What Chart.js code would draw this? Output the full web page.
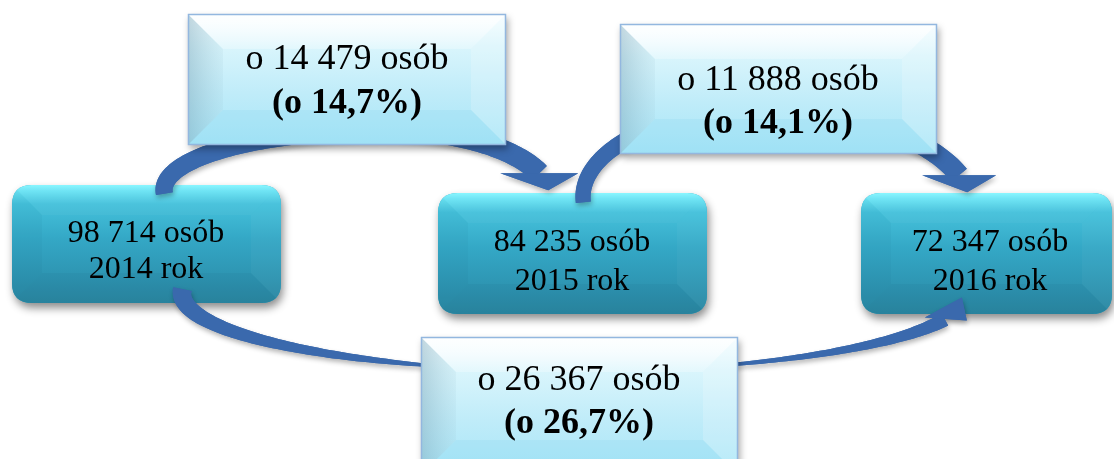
<!DOCTYPE html>
<html>
<head>
<meta charset="utf-8">
<script src="https://cdn.jsdelivr.net/npm/chart.js@4.4.0/dist/chart.umd.min.js"></script>
<style>
  html, body { margin: 0; padding: 0; background: #ffffff; }
  #wrap { width: 1114px; height: 459px; }
</style>
</head>
<body>
<div id="wrap"><canvas id="c" width="1114" height="459"></canvas></div>
<script>
// ---- data ----
const years = [2014, 2015, 2016];
const persons = [98714, 84235, 72347];
// changes: 2014->2015, 2015->2016, 2014->2016
const changePersons = [14479, 11888, 26367];
const changePct = [14.7, 14.1, 26.7];

// ---- layout (diagram coordinates, 1 unit = 1 px) ----
const W = 1114, H = 459;
const yearBoxes = [
  { x0: 12,  y0: 185, x1: 281,  y1: 303, tx: 146, b1: 242, b2: 278 },
  { x0: 438, y0: 193, x1: 707,  y1: 314, tx: 572, b1: 251, b2: 290 },
  { x0: 861, y0: 193, x1: 1112, y1: 314, tx: 990, b1: 251, b2: 290 }
];
const changeBoxes = [
  { x0: 188, y0: 14,  x1: 506, y1: 145, tx: 347, b1: 69,  b2: 113 },
  { x0: 620, y0: 24,  x1: 937, y1: 154, tx: 778, b1: 90,  b2: 133 },
  { x0: 421, y0: 337, x1: 738, y1: 475, tx: 579, b1: 390, b2: 433 }
];

function fmtInt(n) { return String(n).replace(/\B(?=(\d{3})+(?!\d))/g, ' '); }
function fmtPct(p) { return p.toFixed(1).replace('.', ','); }

const SERIF = '"Liberation Serif", "Times New Roman", serif';

const diagramPlugin = {
  id: 'diagram',
  afterDraw(chart) {
    const ctx = chart.ctx;
    const sx = chart.scales.x, sy = chart.scales.y;
    const X = v => sx.getPixelForValue(v);
    const Y = v => sy.getPixelForValue(v);
    const P = (x, y) => [X(x), Y(y)];

    function roundRect(x0, y0, x1, y1, r) {
      ctx.beginPath();
      ctx.moveTo(x0 + r, y0);
      ctx.lineTo(x1 - r, y0);
      ctx.quadraticCurveTo(x1, y0, x1, y0 + r);
      ctx.lineTo(x1, y1 - r);
      ctx.quadraticCurveTo(x1, y1, x1 - r, y1);
      ctx.lineTo(x0 + r, y1);
      ctx.quadraticCurveTo(x0, y1, x0, y1 - r);
      ctx.lineTo(x0, y0 + r);
      ctx.quadraticCurveTo(x0, y0, x0 + r, y0);
      ctx.closePath();
    }
    function poly(pts, fill) {
      ctx.beginPath();
      ctx.moveTo(pts[0][0], pts[0][1]);
      for (let i = 1; i < pts.length; i++) ctx.lineTo(pts[i][0], pts[i][1]);
      ctx.closePath();
      ctx.fillStyle = fill;
      ctx.fill();
    }
    function bevel(x0, y0, x1, y1, b, cols) {
      poly([[x0, y0], [x0 + b, y0 + b], [x0 + b, y1 - b], [x0, y1]], cols[0]);
      poly([[x0, y0], [x1, y0], [x1 - b, y0 + b], [x0 + b, y0 + b]], cols[1]);
      poly([[x1, y0], [x1, y1], [x1 - b, y1 - b], [x1 - b, y0 + b]], cols[2]);
      poly([[x0, y1], [x0 + b, y1 - b], [x1 - b, y1 - b], [x1, y1]], cols[3]);
    }

    function tealBox(bx) {
      const [x0, y0] = P(bx.x0, bx.y0), [x1, y1] = P(bx.x1, bx.y1);
      const r = 20;
      ctx.save();
      ctx.shadowColor = 'rgba(0,0,0,0.45)';
      ctx.shadowBlur = 9;
      ctx.shadowOffsetX = 2;
      ctx.shadowOffsetY = 5;
      roundRect(x0, y0, x1, y1, r);
      ctx.fillStyle = '#33a6c3';
      ctx.fill();
      ctx.restore();
      ctx.save();
      roundRect(x0, y0, x1, y1, r);
      const g = ctx.createLinearGradient(0, y0, 0, y1);
      g.addColorStop(0, '#86f6ff');
      g.addColorStop(0.05, '#6ae3f4');
      g.addColorStop(0.16, '#45c1db');
      g.addColorStop(0.45, '#34a8c6');
      g.addColorStop(0.8, '#2d93b0');
      g.addColorStop(1, '#2a86a1');
      ctx.fillStyle = g;
      ctx.fill();
      ctx.clip();
      bevel(x0, y0, x1, y1, 30, [
        'rgba(0,50,80,0.035)', 'rgba(255,255,255,0.035)',
        'rgba(255,255,255,0.03)', 'rgba(0,40,70,0.045)'
      ]);
      ctx.restore();
    }

    function lightBox(bx) {
      const [x0, y0] = P(bx.x0, bx.y0), [x1, y1] = P(bx.x1, bx.y1);
      ctx.save();
      ctx.shadowColor = 'rgba(0,0,0,0.35)';
      ctx.shadowBlur = 7;
      ctx.shadowOffsetX = 2;
      ctx.shadowOffsetY = 4;
      ctx.fillStyle = '#c5eef9';
      ctx.fillRect(x0, y0, x1 - x0, y1 - y0);
      ctx.restore();
      ctx.save();
      ctx.beginPath();
      ctx.rect(x0, y0, x1 - x0, y1 - y0);
      ctx.clip();
      const g = ctx.createLinearGradient(0, y0, 0, y1);
      g.addColorStop(0, '#f6fdff');
      g.addColorStop(0.25, '#d9f5fc');
      g.addColorStop(0.6, '#c0ecf9');
      g.addColorStop(1, '#a6e5f7');
      ctx.fillStyle = g;
      ctx.fillRect(x0, y0, x1 - x0, y1 - y0);
      const b = 35;
      const gl = ctx.createLinearGradient(x0, 0, x0 + b, 0);
      gl.addColorStop(0, 'rgba(120,160,178,0.42)');
      gl.addColorStop(1, 'rgba(150,190,205,0.12)');
      poly([[x0, y0], [x0 + b, y0 + b], [x0 + b, y1 - b], [x0, y1]], gl);
      const gt = ctx.createLinearGradient(0, y0, 0, y0 + b);
      gt.addColorStop(0, 'rgba(255,255,255,0.85)');
      gt.addColorStop(1, 'rgba(255,255,255,0.25)');
      poly([[x0, y0], [x1, y0], [x1 - b, y0 + b], [x0 + b, y0 + b]], gt);
      poly([[x1, y0], [x1, y1], [x1 - b, y1 - b], [x1 - b, y0 + b]], 'rgba(255,255,255,0.18)');
      poly([[x0, y1], [x0 + b, y1 - b], [x1 - b, y1 - b], [x1, y1]], 'rgba(140,215,240,0.25)');
      ctx.restore();
      ctx.save();
      ctx.strokeStyle = '#93b7df';
      ctx.lineWidth = 1.5;
      ctx.strokeRect(x0 + 0.5, y0 + 0.5, x1 - x0 - 1, y1 - y0 - 1);
      ctx.restore();
    }

    function band(pts, widths) {
      const left = [], right = [];
      for (let i = 0; i < pts.length; i++) {
        const a = pts[Math.max(0, i - 1)], c = pts[Math.min(pts.length - 1, i + 1)];
        let dx = c[0] - a[0], dy = c[1] - a[1];
        const L = Math.hypot(dx, dy) || 1;
        dx /= L; dy /= L;
        const nx = -dy, ny = dx;
        const hw = widths[i] / 2;
        left.push([pts[i][0] + nx * hw, pts[i][1] + ny * hw]);
        right.push([pts[i][0] - nx * hw, pts[i][1] - ny * hw]);
      }
      return left.concat(right.reverse());
    }

    const ARROW = '#3a69ad';
    function drawArrowShape(shaft, head) {
      ctx.save();
      ctx.shadowColor = 'rgba(0,0,0,0.30)';
      ctx.shadowBlur = 5;
      ctx.shadowOffsetX = 1;
      ctx.shadowOffsetY = 3;
      ctx.beginPath();
      ctx.moveTo(shaft[0][0], shaft[0][1]);
      for (let i = 1; i < shaft.length; i++) ctx.lineTo(shaft[i][0], shaft[i][1]);
      ctx.closePath();
      ctx.moveTo(head[0][0], head[0][1]);
      for (let i = 1; i < head.length; i++) ctx.lineTo(head[i][0], head[i][1]);
      ctx.closePath();
      ctx.fillStyle = ARROW;
      ctx.fill('nonzero');
      ctx.restore();
      ctx.save();
      poly(shaft, ARROW);
      poly(head, ARROW);
      ctx.restore();
    }

    function topArc(a) {
      const pts = [], ws = [];
      const N1 = 60, N2 = 50;
      for (let i = 0; i <= N1; i++) {
        const th = (Math.PI - 0.06) + (Math.PI / 2 + 0.06) * i / N1;
        pts.push(P(a.tx + a.rx1 * Math.cos(th), a.sy + a.ry1 * Math.sin(th)));
      }
      for (let i = 1; i <= N2; i++) {
        const th = 1.5 * Math.PI + (a.endA) * i / N2;
        pts.push(P(a.tx + a.rx2 * Math.cos(th), a.cy2 + a.ry2 * Math.sin(th)));
      }
      for (let i = 0; i < pts.length; i++) ws.push(a.w0 + (a.w1 - a.w0) * i / (pts.length - 1));
      const e = pts[pts.length - 1];
      const head = a.head.map(o => [e[0] + o[0], e[1] + o[1]]);
      drawArrowShape(band(pts, ws), head);
    }

    function bottomArc(a) {
      const pts = [], ws = [];
      const N = 160;
      const t0 = a.th0, t1 = a.th1;
      for (let i = 0; i <= N; i++) {
        const t = i / N;
        const th = t0 + (t1 - t0) * t;
        pts.push(P(a.cx + a.rx * Math.cos(th), a.cy + a.ry * Math.sin(th)));
        let w = 2;
        if (t < 0.45) w += 17 * Math.pow(1 - t / 0.45, 0.8);
        if (t > 0.65) w += 12 * Math.pow((t - 0.65) / 0.35, 1.3);
        ws.push(w);
      }
      const e = pts[pts.length - 1];
      const head = a.head.map(o => [e[0] + o[0], e[1] + o[1]]);
      drawArrowShape(band(pts, ws), head);
    }

    // 1. year boxes
    yearBoxes.forEach(tealBox);

    // 2. arrows
    topArc({ sy: 190, tx: 385, rx1: 221, ry1: 60, cy2: 197, rx2: 165, ry2: 67, endA: Math.PI / 2.6,
             w0: 17, w1: 21, head: [[-39, 0], [39, 0], [9, 17]] });
    topArc({ sy: 197, tx: 760, rx1: 177, ry1: 87, cy2: 211, rx2: 213, ry2: 101, endA: Math.PI / 2.6,
             w0: 15, w1: 20, head: [[-37, 0], [37, 0], [8, 17]] });
    bottomArc({ cx: 575, cy: 293, rx: 393, ry: 78,
                th0: Math.PI + 0.05, th1: 0.345,
                head: [[-20, -2], [22, 1], [17, -22]] });

    // 3. change boxes
    changeBoxes.forEach(lightBox);

    // 4. texts
    ctx.save();
    ctx.fillStyle = '#000000';
    ctx.textAlign = 'center';
    ctx.textBaseline = 'alphabetic';
    yearBoxes.forEach((bx, i) => {
      ctx.font = '32px ' + SERIF;
      ctx.fillText(fmtInt(persons[i]) + ' osób', X(bx.tx), Y(bx.b1));
      ctx.fillText(years[i] + ' rok', X(bx.tx), Y(bx.b2));
    });
    changeBoxes.forEach((bx, i) => {
      ctx.font = '36px ' + SERIF;
      ctx.fillText('o ' + fmtInt(changePersons[i]) + ' osób', X(bx.tx), Y(bx.b1));
      ctx.font = 'bold 36px ' + SERIF;
      ctx.fillText('(o ' + fmtPct(changePct[i]) + '%)', X(bx.tx), Y(bx.b2));
    });
    ctx.restore();
  }
};

new Chart(document.getElementById('c').getContext('2d'), {
  type: 'scatter',
  data: {
    datasets: [{
      label: 'osoby',
      data: yearBoxes.map((bx, i) => ({ x: bx.tx, y: (bx.y0 + bx.y1) / 2, v: persons[i] })),
      pointRadius: 0,
      pointHoverRadius: 0
    }]
  },
  options: {
    responsive: false,
    animation: false,
    events: [],
    layout: { padding: 0 },
    plugins: { legend: { display: false }, tooltip: { enabled: false } },
    scales: {
      x: { type: 'linear', min: 0, max: W, display: false },
      y: { type: 'linear', min: 0, max: H, reverse: true, display: false }
    }
  },
  plugins: [diagramPlugin]
});
</script>
</body>
</html>
